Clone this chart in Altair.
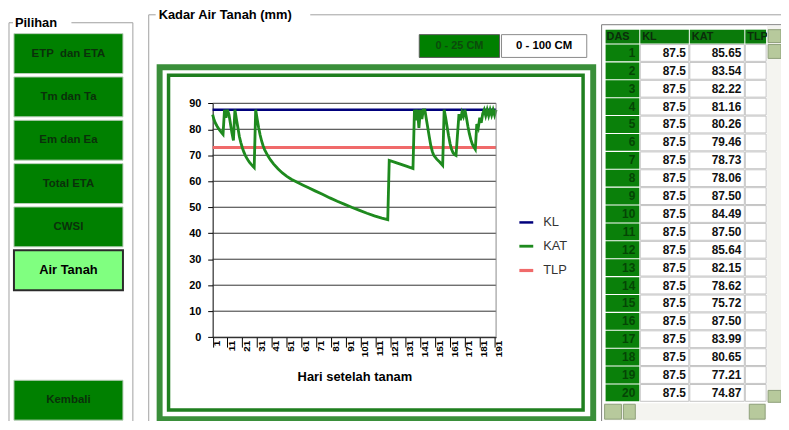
import altair as alt
import pandas as pd

# ---------------- data ----------------
table_das = [1, 2, 3, 4, 5, 6, 7, 8, 9, 10, 11, 12, 13, 14, 15, 16, 17, 18, 19, 20]
table_kl = [87.5, 87.5, 87.5, 87.5, 87.5, 87.5, 87.5, 87.5, 87.5, 87.5,
            87.5, 87.5, 87.5, 87.5, 87.5, 87.5, 87.5, 87.5, 87.5, 87.5]
table_kat = [85.65, 83.54, 82.22, 81.16, 80.26, 79.46, 78.73, 78.06, 87.50, 84.49,
             87.50, 85.64, 82.15, 78.62, 75.72, 87.50, 83.99, 80.65, 77.21, 74.87]

kat_days_later = [21, 22, 23, 24, 25, 26, 27, 28, 29, 30, 31, 32, 33, 34, 35, 36, 38, 40, 42, 45,
                  48, 51, 54, 58, 62, 66, 70, 75, 80, 85, 90, 95, 100, 105, 110, 115, 119,
                  120, 124, 128, 132, 136,
                  137, 138, 139, 140, 141, 142, 143, 144, 145, 146, 147, 148, 149, 150, 152, 154, 156,
                  157, 158, 159, 160, 161, 162, 163, 164, 165, 166, 167, 168, 169, 170, 171,
                  172, 173, 174, 175, 176, 177, 178, 179, 180, 181, 182, 183, 184, 185, 186, 187,
                  188, 189, 190, 191, 192]
kat_vals_later = [72.9, 71.3, 70.0, 68.9, 68.0, 67.2, 66.5, 65.9, 65.3, 87.5, 84.0, 80.6, 77.8, 75.5, 73.7, 72.2, 70.0, 68.2, 66.7, 64.8,
                  63.2, 61.9, 60.8, 59.6, 58.5, 57.4, 56.3, 55.0, 53.6, 52.3, 51.1, 49.9, 48.8, 47.7, 46.7, 45.8, 45.2,
                  68.0, 67.3, 66.5, 65.7, 64.9,
                  87.5, 83.5, 87.5, 80.5, 87.5, 84.0, 87.5, 87.5, 84.0, 80.5, 77.0, 73.8, 71.5, 70.0, 68.5, 67.4, 66.1,
                  87.5, 84.5, 81.0, 77.5, 74.5, 72.3, 71.0, 70.2, 69.9, 78.0, 85.8, 83.5, 86.5, 85.0, 87.5,
                  84.5, 81.2, 78.3, 76.0, 74.3, 73.2, 72.3, 82.0, 80.5, 84.5, 82.5, 86.0, 87.5, 85.3, 87.5, 85.3,
                  87.5, 85.5, 87.5, 85.5, 87.5]
kat_days = table_das + kat_days_later
kat_vals = table_kat + kat_vals_later

kl_value = 87.5
tlp_value = 73.0
first_day = 1
last_day = 192
series_names = ["KL", "KAT", "TLP"]
series_colors = ["#00007c", "#1e8a1e", "#f06a6a"]
series_widths = [2.5, 3.2, 3.5]
x_tick_days = [1, 11, 21, 31, 41, 51, 61, 71, 81, 91, 101, 111, 121, 131, 141, 151, 161, 171, 181, 191]
y_tick_values = [0, 10, 20, 30, 40, 50, 60, 70, 80, 90]
y_domain = [0, 90]

x_title = "Hari setelah tanam"
panel_title = "Kadar Air Tanah (mm)"
menu_title = "Pilihan"
menu_labels = ["ETP\u00a0\u00a0dan ETA", "Tm dan Ta", "Em dan Ea", "Total ETA", "CWSI", "Air Tanah", "Kembali"]
menu_slots = [0, 1, 2, 3, 4, 5, 8]
menu_slot_domain = [0, 1, 2, 3, 4, 5, 6, 7, 8]
menu_selected = "Air Tanah"
depth_labels = ["0 - 25 CM", "0 - 100 CM"]
table_columns = ["DAS", "KL", "KAT", "TLP"]

# ---------------- layout / style ----------------
FONT = "Liberation Sans"
W, H = 780, 413
GREEN = "#008000"


def P(v):
    return v - 8


one = pd.DataFrame({"k": [0]})


def box(x1, x2, y1, y2, **kw):
    return alt.Chart(one).mark_rect(**kw).encode(
        x=alt.value(P(x1)), x2=alt.value(P(x2)), y=alt.value(P(y1)), y2=alt.value(P(y2)))


def hline(x1, x2, y, color="#a0a0a0", w=1):
    return alt.Chart(one).mark_rule(color=color, strokeWidth=w).encode(
        x=alt.value(P(x1)), x2=alt.value(P(x2)), y=alt.value(P(y)))


def vline(x, y1, y2, color="#a0a0a0", w=1):
    return alt.Chart(one).mark_rule(color=color, strokeWidth=w).encode(
        x=alt.value(P(x)), y=alt.value(P(y1)), y2=alt.value(P(y2)))


def label(x, y, text, size=12, color="black", align="left", weight="bold"):
    return alt.Chart(one).mark_text(text=text, fontSize=size, color=color, align=align,
                                    baseline="middle", font=FONT, fontWeight=weight).encode(
        x=alt.value(P(x)), y=alt.value(P(y)))


# ---------------- main line chart ----------------
xs = alt.Scale(domain=[first_day, last_day], range=[P(214.5), P(500.5)], nice=False, zero=False)
ys = alt.Scale(domain=y_domain, range=[P(338.3), P(102.3)], nice=False, zero=False)

x_axis = alt.Axis(values=x_tick_days, title=x_title, orient="bottom", labelAngle=-90,
                  labelFont=FONT, labelFontWeight="bold", labelFontSize=10, labelColor="black",
                  labelOffset=4, labelPadding=-7, labelFlush=False, labelOverlap=False,
                  tickSize=10, tickColor="black", domainColor="black", grid=False,
                  offset=P(338.3) - H, titleFont=FONT, titleFontSize=13, titleFontWeight="bold",
                  titleColor="black", titleY=40, titleBaseline="middle")
y_axis = alt.Axis(values=y_tick_values, title=None, orient="left", offset=-P(214.5),
                  labelFont=FONT, labelFontWeight="bold", labelFontSize=11, labelColor="black",
                  labelPadding=7, labelFlush=False, tickSize=5, tickColor="black",
                  domainColor="black", grid=False)

grid_df = pd.DataFrame({"v": y_tick_values, "d1": [first_day] * len(y_tick_values),
                        "d2": [last_day] * len(y_tick_values)})
grid = alt.Chart(grid_df).mark_rule(color="#333333", strokeWidth=1).encode(
    y=alt.Y("v:Q", scale=ys, axis=y_axis),
    x=alt.X("d1:Q", scale=xs, axis=x_axis),
    x2="d2:Q")

edge_df = pd.DataFrame({"d": [last_day], "y0": [y_domain[0]], "y1": [y_domain[1]]})
edge = alt.Chart(edge_df).mark_rule(color="#8a8a8a", strokeWidth=1).encode(
    x=alt.X("d:Q", scale=xs, axis=x_axis),
    y=alt.Y("y0:Q", scale=ys, axis=y_axis),
    y2="y1:Q")

line_df = pd.DataFrame({
    "day": [first_day, last_day] + kat_days + [first_day, last_day],
    "value": [kl_value, kl_value] + kat_vals + [tlp_value, tlp_value],
    "series": ["KL", "KL"] + ["KAT"] * len(kat_days) + ["TLP", "TLP"],
})

legend = alt.Legend(orient="none", legendX=P(522), legendY=P(214), title=None, padding=0,
                    symbolType="stroke", symbolSize=196, symbolStrokeWidth=3.5,
                    labelFont=FONT, labelFontSize=13, labelColor="#333333",
                    labelOffset=8, rowPadding=8)
color = alt.Color("series:N", scale=alt.Scale(domain=series_names, range=series_colors), legend=legend)
sw = alt.StrokeWidth("series:N", scale=alt.Scale(domain=series_names, range=series_widths), legend=None)

ref_lines = alt.Chart(line_df).transform_filter("datum.series != 'KAT'").mark_line().encode(
    x=alt.X("day:Q", scale=xs, axis=x_axis),
    y=alt.Y("value:Q", scale=ys, axis=y_axis),
    color=color, strokeWidth=sw)
kat_line = alt.Chart(line_df).transform_filter("datum.series == 'KAT'").mark_line(strokeJoin="miter").encode(
    x=alt.X("day:Q", scale=xs, axis=x_axis),
    y=alt.Y("value:Q", scale=ys, axis=y_axis),
    color=color, strokeWidth=sw)

main = alt.layer(grid, ref_lines, kat_line, edge)

# ---------------- data table ----------------
tab_df = pd.DataFrame({"das": table_das, "kl": table_kl, "kat": table_kat})
ty = alt.Y("das:O", scale=alt.Scale(domain=table_das, range=[P(43), P(43 + 20 * 18.0)],
                                    paddingInner=0.06, paddingOuter=0), axis=None)


def cell(x1, x2, fill, stroke=None):
    kw = dict(fill=fill)
    if stroke:
        kw.update(stroke=stroke, strokeWidth=1)
    return alt.Chart(tab_df).mark_rect(**kw).encode(x=alt.value(P(x1)), x2=alt.value(P(x2)), y=ty)


def cell_text(x, field, fmt, color):
    return alt.Chart(tab_df).mark_text(align="right", baseline="middle", font=FONT, fontWeight="bold",
                                       fontSize=12, color=color).encode(
        x=alt.value(P(x)), y=ty, text=alt.Text(field, format=fmt))


table_group = alt.layer(
    cell(611, 645, "#0a800a"),
    cell(646, 695, "white", "#c4c4c4"),
    cell(696, 751, "white", "#c4c4c4"),
    cell(752, 773, "white", "#c4c4c4"),
    cell_text(641, "das:Q", "d", "#054505"),
    cell_text(692, "kl:Q", ".1f", "#111111"),
    cell_text(748, "kat:Q", ".2f", "#111111"),
)

# ---------------- menu buttons ----------------
menu_df = pd.DataFrame({"slot": menu_slots, "label": menu_labels})
by = alt.Y("slot:O", scale=alt.Scale(domain=menu_slot_domain, range=[P(32), P(422)],
                                     paddingInner=0.08, paddingOuter=0), axis=None)
is_sel = alt.datum.label == menu_selected
menu_rect = alt.Chart(menu_df).mark_rect().encode(
    x=alt.value(P(14)), x2=alt.value(P(124)), y=by,
    fill=alt.condition(is_sel, alt.value("#80ff80"), alt.value(GREEN)),
    stroke=alt.condition(is_sel, alt.value("#2a2a2a"), alt.value("#b8cdb8")),
    strokeWidth=alt.condition(is_sel, alt.value(2), alt.value(1)))
menu_text = alt.Chart(menu_df).mark_text(font=FONT, fontWeight="bold", baseline="middle").encode(
    x=alt.value(P(69)), y=by, text="label:N",
    color=alt.condition(is_sel, alt.value("#000000"), alt.value("#0a300a")),
    size=alt.condition(is_sel, alt.value(13), alt.value(11.5)))
menu_group = alt.layer(menu_rect, menu_text)

# ---------------- decorations ----------------
back = [
    # Pilihan group box
    vline(9, 21, 430), vline(134, 21, 430), hline(9, 13, 21), hline(72, 134, 21),
    label(15, 21, menu_title, size=13),
    # Kadar Air Tanah group box
    vline(150, 13, 430), hline(150, 157, 13), hline(313, 789, 13),
    label(160, 13, panel_title, size=13),
    # depth buttons
    box(423, 504, 33, 56, fill=GREEN, stroke="#5a5a5a", strokeWidth=1),
    box(506, 592, 33, 56, fill="white", stroke="#8a8a8a", strokeWidth=1),
    label(463.5, 45, depth_labels[0], size=11, color="#0c4a0c", align="center"),
    label(549, 45, depth_labels[1], size=11.5, color="black", align="center"),
    # chart frame
    box(161, 598.5, 66, 421, fillOpacity=0, stroke="#3a8f3a", strokeWidth=6),
    box(170, 588.3, 74, 411.7, fillOpacity=0, stroke="#1f7f1f", strokeWidth=3.5),
    # table frame and header
    box(607, 789, 23, 425, fill="white", stroke="#7a7a7a", strokeWidth=1),
    box(611, 645, 28, 42, fill="#0a7a0a"),
    box(646, 695, 28, 42, fill="#0a7a0a"),
    box(696, 751, 28, 42, fill="#0a7a0a"),
    box(752, 773, 28, 42, fill="#0a7a0a"),
    label(612, 35, table_columns[0], size=11, color="#0b2d0b"),
    label(648, 35, table_columns[1], size=11, color="#0b2d0b"),
    label(698, 35, table_columns[2], size=11, color="#0b2d0b"),
    label(754, 35, table_columns[3], size=11, color="#0b2d0b"),
]
front = [
    # vertical scrollbar
    box(774, 789, 24, 404, fill="#f4f4f0"),
    box(775, 788, 28, 41, fill="#b7c99c", stroke="#8fa07a", strokeWidth=1),
    box(775, 788, 43, 57, fill="#b7c99c", stroke="#8fa07a", strokeWidth=1),
    box(775, 788, 392, 404, fill="#b7c99c", stroke="#8fa07a", strokeWidth=1),
    # horizontal scrollbar
    box(609, 773, 405, 422, fill="#f4f4f0"),
    box(610, 627, 406, 421, fill="#b7c99c", stroke="#8fa07a", strokeWidth=1),
    box(629, 641, 406, 421, fill="#b7c99c", stroke="#8fa07a", strokeWidth=1),
    box(756, 772, 406, 421, fill="#b7c99c", stroke="#8fa07a", strokeWidth=1),
]

chart = alt.layer(*back, main, table_group, menu_group, *front).resolve_scale(
    x="independent", y="independent"
).properties(
    width=W, height=H, autosize=alt.AutoSizeParams(type="none"), padding=0,
    background="white"
).configure_view(strokeWidth=0)

chart.save("out.html", embed_options={"renderer": "svg", "actions": False})
